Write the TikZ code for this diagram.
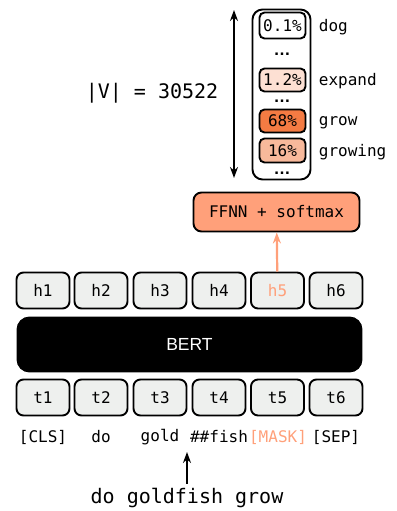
\documentclass[tikz,border=0pt]{standalone}
\usepackage{fontspec}
\setmonofont{DejaVu Sans Mono}
\setsansfont{Liberation Sans}
\usepackage{tikz}
\usetikzlibrary{arrows,arrows.meta}
\usepackage{xcolor}
\definecolor{boxgray}{HTML}{EEF0EE}
\definecolor{salmon}{HTML}{FFA07A}
\definecolor{p-low}{HTML}{FDE0D3}
\definecolor{p-mid}{HTML}{F8B99B}
\definecolor{p-high}{HTML}{F47B43}

\begin{document}
\begin{tikzpicture}[>={Stealth[length=11pt,width=8pt]},x=1pt,y=-1pt,line width=1.9pt,font=\ttfamily\fontsize{16}{18}\selectfont]
  \tikzstyle{tok}=[rectangle,draw,rounded corners=7pt,fill=boxgray,minimum width=53pt,minimum height=36pt,inner sep=0pt]
  \tikzstyle{prob}=[rectangle,draw,rounded corners=5pt,minimum width=46pt,minimum height=24pt,inner sep=0pt]
  \tikzstyle{dots}=[font=\sffamily\bfseries\fontsize{17}{18}\selectfont,inner sep=0pt]
  \tikzstyle{word}=[anchor=west,inner sep=0pt]
  \useasboundingbox (0,0) rectangle (396,511);
  % vocabulary column
  \node(vocab) at (281.5,94.5)[rectangle,draw,rounded corners=10pt,minimum width=58pt,minimum height=170pt]{};
  \node(p-dog) at (282.5,25.5)[prob,fill=white,minimum height=26pt]{0.1\%};
  \node(d-1) at (282,54)[dots]{…};
  \node(p-expand) at (282.5,80)[prob,fill=p-low,minimum height=23pt]{1.2\%};
  \node(d-2) at (282,101)[dots]{…};
  \node(p-grow) at (282.5,121)[prob,fill=p-high,minimum height=23pt]{68\%};
  \node(p-growing) at (282.5,150.5)[prob,fill=p-mid]{16\%};
  \node(d-3) at (282,173)[dots]{…};
  \node(w-dog) at (318,27)[word]{dog};
  \node(w-expand) at (318,81)[word]{expand};
  \node(w-grow) at (318,123)[word]{grow};
  \node(w-growing) at (318,152)[word]{growing};
  \coordinate(v-top) at (234,10);
  \coordinate(v-bot) at (234,178);
  \draw[<->,line width=2.2pt](v-top)--(v-bot);
  \node(v-size) at (152,93)[font=\ttfamily\fontsize{20}{24}\selectfont]{|V| = 30522};
  % head
  \node(ffnn) at (276.5,212)[rectangle,draw,rounded corners=8pt,fill=salmon,minimum width=166pt,minimum height=39pt]{FFNN + softmax};
  % hidden states
  \node(h1) at (43,290.5)[tok]{h1};
  \node(h2) at (101,290.5)[tok]{h2};
  \node(h3) at (160,290.5)[tok]{h3};
  \node(h4) at (219,290.5)[tok]{h4};
  \node(h5) at (277.5,290.5)[tok,text=salmon]{h5};
  \node(h6) at (336,290.5)[tok]{h6};
  \draw[->,salmon,line width=2.2pt](h5)--(ffnn);
  % encoder
  \node(bert) at (189.5,344.5)[rectangle,draw,fill=black,rounded corners=12pt,minimum width=344pt,minimum height=54pt,text=white,font=\sffamily\fontsize{17.5}{20}\selectfont]{BERT};
  % token embeddings
  \node(t1) at (43,397.5)[tok]{t1};
  \node(t2) at (101,397.5)[tok]{t2};
  \node(t3) at (160,397.5)[tok]{t3};
  \node(t4) at (219,397.5)[tok]{t4};
  \node(t5) at (277.5,397.5)[tok]{t5};
  \node(t6) at (336,397.5)[tok]{t6};
  % word pieces
  \node(k1) at (43,437)[]{[CLS]};
  \node(k2) at (101,437)[]{do};
  \node(k3) at (160,437)[]{gold};
  \node(k4) at (219,437)[]{\#\#fish};
  \node(k5) at (278,437)[text=salmon]{[MASK]};
  \node(k6) at (336,437)[]{[SEP]};
  \node(sent) at (187,498)[font=\ttfamily\fontsize{20}{24}\selectfont]{do goldfish grow};
  \coordinate(tok-in) at (187,452);
  \draw[->,line width=2.2pt](sent)--(tok-in);
\end{tikzpicture}
\end{document}
